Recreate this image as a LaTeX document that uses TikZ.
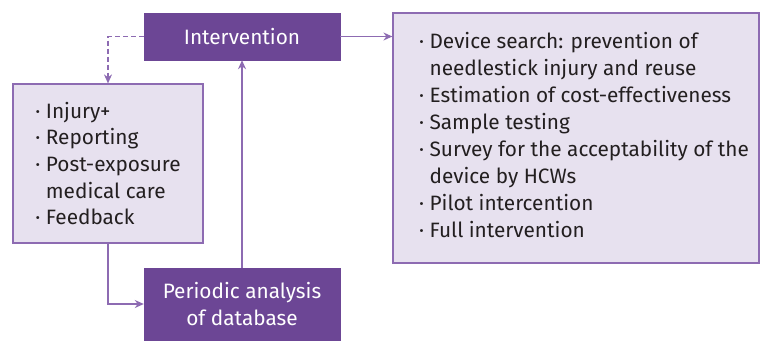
\documentclass[tikz,border=0pt]{standalone}
\usepackage{fontspec}
\setmainfont{Fira Sans}
\usetikzlibrary{arrows.meta,positioning}
\definecolor{boxviolet}{HTML}{6C4695}
\definecolor{paleviolet}{HTML}{E7E1EF}
\definecolor{edgeviolet}{HTML}{8D6BB2}
\definecolor{inktext}{HTML}{231F20}
\tikzstyle{darkbox} = [fill=boxviolet, draw=boxviolet, text=white, align=center, inner sep=0pt]
\tikzstyle{lightbox} = [fill=paleviolet, draw=edgeviolet, line width=1.2pt, text=inktext, align=left, inner sep=0pt]
\tikzstyle{line} = [draw=edgeviolet, line width=1.4pt, -{Stealth[length=9pt,width=8pt]}]
\newcommand{\itm}{\textperiodcentered\ }
\newcommand{\cont}{\phantom{\textperiodcentered\ }}
\renewcommand{\arraystretch}{1.012}

\begin{document}
\begin{tikzpicture}[x=1pt,y=-1pt,font=\fontsize{20.8}{26.7}\selectfont]
    \useasboundingbox (0,0) rectangle (760,340);

    % the two action boxes
    \node[darkbox, minimum width=196pt, minimum height=47pt] (interv) at (242,36.5) {Intervention};
    \node[darkbox, minimum width=196pt, minimum height=72pt] (analysis) at (242,304) {Periodic analysis\\of database};

    % surveillance steps
    \node[lightbox, minimum width=190pt, minimum height=159pt] (report) at (108,163.5)
        {\itm Injury+\\ \itm Reporting\\ \itm Post-exposure\\ \cont medical care\\ \itm Feedback};

    % list of measures (padded on the left)
    \node[lightbox, minimum width=366pt, minimum height=250pt] (measures) at (576,138)
        {\raisebox{-3pt}{\begin{tabular}{@{\hspace{16pt}}l@{}}
         \itm Device search: prevention of\\ \cont needlestick injury and reuse\\
         \itm Estimation of cost-effectiveness\\ \itm Sample testing\\
         \itm Survey for the acceptability of the\\ \cont device by HCWs\\
         \itm Pilot intercention\\ \itm Full intervention
         \end{tabular}}};

    % connectors
    \path[line, dash pattern=on 5pt off 3pt] (interv.west) -| (report.north);
    \path[line] (report.south) |- (analysis.west);
    \path[line] (analysis.north) -- (interv.south);
    \path[line] (interv.east) -- (interv.east -| measures.west);
\end{tikzpicture}
\end{document}
